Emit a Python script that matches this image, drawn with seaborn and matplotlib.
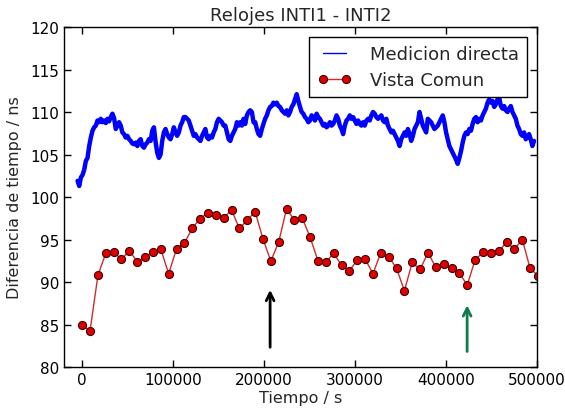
import numpy as np
import pandas as pd
import matplotlib
matplotlib.use("Agg")
import matplotlib.pyplot as plt
import seaborn as sns

# Medicion directa, one sample every ~1825 s starting near -5100 s
directa_t0 = -5100
directa_step = 1825
directa = [
    101.9, 101.3, 102.3, 102.6, 103.2, 104.25, 104.6, 106.0, 107.0, 107.8,
    108.2, 108.4, 109.0, 108.8, 109.2, 108.8, 109.0, 108.7, 109.2, 108.9,
    109.4, 109.8, 109.3, 108.0, 108.4, 108.8, 108.4, 107.6, 107.4, 107.0,
    107.2, 106.8, 106.6, 106.3, 106.2, 106.4, 106.0, 106.6, 106.8, 106.0,
    105.8, 106.2, 106.4, 106.8, 106.6, 107.8, 108.2, 106.5, 105.2, 104.6,
    105.0, 106.6, 107.6, 108.0, 107.4, 107.0, 106.8, 107.4, 108.2, 107.6,
    107.2, 107.6, 108.4, 108.8, 109.4, 109.4, 109.2, 109.0, 108.4, 107.8,
    107.2, 107.4, 107.0, 106.8, 106.6, 107.2, 107.6, 108.0, 107.0, 106.8,
    107.2, 107.0, 107.6, 108.0, 108.8, 109.2, 109.0, 108.8, 108.4,
    # middle part
    108.4, 107.6, 106.8, 106.6, 107.2, 107.6, 108.0, 108.8, 108.4, 108.8,
    108.4, 109.2, 108.6, 109.6, 110.0, 110.2, 110.0, 108.8, 108.8, 108.0,
    107.4, 107.2, 108.0, 108.6, 109.2, 109.6, 110.2, 110.6, 110.7, 111.1,
    110.9, 111.1, 110.7, 110.6, 110.2, 110.0, 109.8, 110.2, 109.6, 110.0,
    110.6, 110.9, 111.5, 112.1, 111.3, 110.6, 110.0, 109.8, 109.4, 109.2,
    108.8, 109.0, 109.6, 109.4, 109.0, 109.8, 109.4, 109.2, 108.8, 108.4,
    108.6, 108.2, 108.4, 108.8, 108.4, 108.6, 109.0, 109.6, 109.2, 108.4,
    108.0, 107.4, 108.4, 109.0, 109.2, 109.6, 109.2, 109.4, 109.0, 108.6,
    109.0, 108.6, 108.4, 108.8, 108.4, 109.0, 109.2, 109.0, 109.6, 110.0,
    109.8, 109.4, 109.2,
    # last part
    109.4, 109.6, 109.0, 108.8, 109.2, 108.4, 108.0, 107.6, 107.8, 107.4,
    107.0, 106.6, 106.0, 106.8, 107.2, 107.6, 107.2, 108.0, 107.4, 106.6,
    107.2, 108.0, 108.4, 108.8, 110.0, 109.2, 108.4, 108.0, 107.6, 109.2,
    109.0, 108.8, 108.4, 108.0, 108.2, 108.4, 108.8, 109.2, 109.6, 108.8,
    107.6, 106.8, 106.0, 105.6, 105.2, 104.8, 104.4, 103.9, 104.6, 105.4,
    106.4, 107.2, 107.6, 107.4, 108.0, 107.8, 108.6, 109.2, 109.4, 108.8,
    109.2, 109.0, 109.6, 110.0, 110.4, 111.1, 111.5, 111.1, 111.3, 110.6,
    110.9, 111.5, 111.7, 110.7, 110.4, 110.7, 110.2, 110.0, 110.4, 110.7,
    110.0, 109.6, 109.2, 108.4, 108.0, 107.4, 107.2, 107.6, 106.8, 107.0,
    107.4, 106.8, 106.0, 106.6,
]

# Vista Comun: one point every 8640 s
vista_step = 8640
vista = [
    84.9, 84.26, 90.78, 93.4, 93.55, 92.66, 93.67, 92.4, 92.9, 93.55,
    93.87, 90.98, 93.9, 94.57, 96.3, 97.46, 98.16, 97.9, 97.54, 98.48,
    96.3, 97.27, 98.28, 95.08, 92.46, 94.69, 98.6, 97.3, 97.54, 95.27,
    92.5, 92.3, 93.4, 91.95, 91.33, 92.58, 92.7, 90.98, 93.44, 93.0,
    91.6, 88.98, 92.3, 91.48, 93.44, 91.72, 92.07, 91.6, 91.02, 89.65,
    92.62, 93.5, 93.4, 93.6, 94.69, 93.87, 95.0, 91.6, 90.74,
]

# arrows (x, y_tail, y_tip)
arrow_black = (206600, 82.0, 89.4)
arrow_green = (423200, 81.5, 87.6)

df_directa = pd.DataFrame({
    "t": directa_t0 + directa_step * np.arange(len(directa)),
    "dt": directa,
})
df_vista = pd.DataFrame({
    "t": vista_step * np.arange(len(vista)),
    "dt": vista,
})

sns.set_theme(style="white", rc={
    "xtick.direction": "in", "ytick.direction": "in",
    "xtick.top": True, "ytick.right": True,
    "xtick.bottom": True, "ytick.left": True,
    "xtick.major.size": 5, "ytick.major.size": 5,
    "axes.edgecolor": "black", "axes.linewidth": 1.0,
})
plt.rcParams["font.family"] = ["DejaVu Sans"]

fig, ax = plt.subplots(figsize=(5.65, 4.1), dpi=100)
fig.subplots_adjust(left=0.1133, right=0.9504, top=0.9317, bottom=0.1024)

sns.lineplot(data=df_directa, x="t", y="dt", ax=ax, color="#0000ff",
             linewidth=3.2, label="Medicion directa", sort=False)
sns.lineplot(data=df_vista, x="t", y="dt", ax=ax, color="#d42a2a",
             linewidth=1.0, marker="o", markersize=5.8,
             markerfacecolor="#e00000", markeredgecolor="#400000",
             markeredgewidth=0.8, label="Vista Comun", sort=False)

ax.annotate("", xy=(arrow_black[0], arrow_black[2]),
            xytext=(arrow_black[0], arrow_black[1]),
            arrowprops=dict(arrowstyle="->", color="black", lw=2,
                            mutation_scale=14))
ax.annotate("", xy=(arrow_green[0], arrow_green[2]),
            xytext=(arrow_green[0], arrow_green[1]),
            arrowprops=dict(arrowstyle="->", color="#0f7a4e", lw=2,
                            mutation_scale=14))

ax.set_xlim(-20000, 500000)
ax.set_ylim(80, 120)
ax.set_xticks(np.arange(0, 500001, 100000))
ax.set_yticks(np.arange(80, 121, 5))
ax.tick_params(labelsize=11, colors="black", width=1)
ax.set_xlabel("Tiempo / s", fontsize=11.5, labelpad=2)
ax.set_ylabel("Diferencia de tiempo / ns", fontsize=11.5, labelpad=6)
ax.set_title("Relojes INTI1 - INTI2", fontsize=13, pad=5)

leg = ax.legend(loc="upper right", fontsize=13, numpoints=2,
                frameon=True, fancybox=False, framealpha=1,
                edgecolor="black", handlelength=1.9, handletextpad=1.0,
                borderpad=0.45, labelspacing=0.45, borderaxespad=0.55)
leg.get_frame().set_linewidth(1.0)
leg.get_lines()[0].set_linewidth(1.0)

fig.savefig("out.png", dpi=100)
